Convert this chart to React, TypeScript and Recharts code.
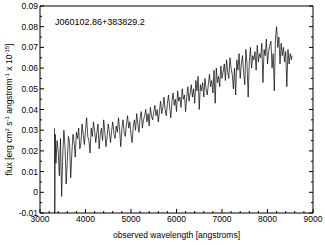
import React from 'react';
import { LineChart, Line, XAxis, YAxis } from 'recharts';

// wavelength samples [angstroms]
const wave = [
  3318, 3325, 3335,
  3350, 3375, 3400, 3425, 3450, 3475, 3500, 3525,
  3550, 3575, 3600, 3625, 3650, 3675, 3700, 3725,
  3750, 3775, 3800, 3825, 3850, 3875, 3900, 3925,
  3950, 3975, 4000, 4025, 4050, 4075, 4100, 4125,
  4150, 4175, 4200, 4225, 4250, 4275, 4300, 4325,
  4350, 4375, 4400, 4425, 4450, 4475, 4500, 4525,
  4550, 4575, 4600, 4625, 4650, 4675, 4700, 4725,
  4750, 4775, 4800, 4825, 4850, 4875, 4900, 4925,
  4950, 4975, 5000, 5025, 5050, 5075, 5100, 5125,
  5150, 5175, 5200, 5225, 5250, 5275, 5300, 5325,
  5350, 5375, 5400, 5425, 5450, 5475, 5500, 5525,
  5550, 5575, 5600, 5625, 5650, 5675, 5700, 5725,
  5750, 5775, 5800, 5825, 5850, 5875, 5900, 5925,
  5950, 5975, 6000, 6025, 6050, 6075, 6100, 6125,
  6150, 6175, 6200, 6225, 6250, 6275, 6300, 6325,
  6350, 6375, 6400, 6425, 6450, 6475, 6500, 6525,
  6550, 6575, 6600, 6625, 6650, 6675, 6700, 6725,
  6750, 6775, 6800, 6825, 6850, 6875, 6900, 6925,
  6950, 6975, 7000, 7025, 7050, 7075, 7100, 7125,
  7150, 7175, 7200, 7225, 7250, 7275, 7300, 7325,
  7350, 7375, 7400, 7425, 7450, 7475, 7500, 7525,
  7550, 7575, 7600, 7625, 7650, 7675, 7700, 7725,
  7750, 7775, 7800, 7825, 7850, 7875, 7900, 7925,
  7950, 7975, 8000, 8025, 8050, 8075, 8100, 8125,
  8150, 8175, 8200, 8225, 8250, 8275, 8300, 8325,
  8350, 8375, 8400, 8425, 8450, 8475, 8500, 8525,
  8540,
];

// flux [erg cm^2 s^-1 angstrom^-1 x 10^-15]
const flux = [
  0.031, -0.012, 0.028,
  0.014, 0.025, 0.020, 0.008, 0.026, -0.002, 0.018, 0.030,
  0.022, 0.004, 0.015, 0.027, 0.024, 0.007, 0.019, 0.028,
  0.024, 0.017, 0.029, 0.026, 0.031, 0.021, 0.024, 0.033,
  0.028, 0.023, 0.030, 0.036, 0.027, 0.025, 0.019, 0.031,
  0.027, 0.034, 0.030, 0.024, 0.029, 0.033, 0.021, 0.028,
  0.031, 0.025, 0.035, 0.029, 0.022, 0.027, 0.033, 0.029,
  0.024, 0.030, 0.034, 0.028, 0.026, 0.032, 0.029, 0.036,
  0.030, 0.022, 0.031, 0.035, 0.029, 0.027, 0.033, 0.037,
  0.031, 0.034, 0.028, 0.024, 0.032, 0.035, 0.030, 0.038,
  0.033, 0.029, 0.036, 0.039, 0.031, 0.035, 0.037, 0.040,
  0.034, 0.038, 0.032, 0.041, 0.037, 0.035, 0.039, 0.042,
  0.037, 0.040, 0.034, 0.039, 0.044, 0.038, 0.041, 0.046,
  0.040, 0.037, 0.043, 0.047, 0.041, 0.036, 0.044, 0.048,
  0.042, 0.045, 0.039, 0.049, 0.044, 0.046, 0.041, 0.050,
  0.045, 0.047, 0.039, 0.046, 0.051, 0.044, 0.048, 0.052,
  0.046, 0.050, 0.043, 0.054, 0.049, 0.056, 0.040, 0.052,
  0.049, 0.053, 0.046, 0.055, 0.050, 0.047, 0.052, 0.057,
  0.051, 0.054, 0.048, 0.059, 0.043, 0.060, 0.053, 0.056,
  0.051, 0.061, 0.055, 0.058, 0.062, 0.054, 0.064, 0.058,
  0.055, 0.065, 0.060, 0.057, 0.050, 0.060, 0.047, 0.064,
  0.059, 0.067, 0.055, 0.062, 0.066, 0.058, 0.052, 0.069,
  0.062, 0.046, 0.063, 0.070, 0.060, 0.066, 0.064, 0.068,
  0.059, 0.071, 0.063, 0.067, 0.065, 0.072, 0.053, 0.069,
  0.066, 0.074, 0.062, 0.068, 0.071, 0.073, 0.060, 0.067,
  0.049, 0.074, 0.080, 0.070, 0.075, 0.062, 0.072, 0.066,
  0.070, 0.063, 0.068, 0.051, 0.069, 0.062, 0.067, 0.064,
  0.066,
];

// axis ticks (major + minor)
const xTicks = [
  3000, 3200, 3400, 3600, 3800, 4000, 4200, 4400, 4600, 4800,
  5000, 5200, 5400, 5600, 5800, 6000, 6200, 6400, 6600, 6800,
  7000, 7200, 7400, 7600, 7800, 8000, 8200, 8400, 8600, 8800, 9000,
];
const yTicks = [
  -0.01, -0.005, 0, 0.005, 0.01, 0.015, 0.02, 0.025, 0.03, 0.035, 0.04,
  0.045, 0.05, 0.055, 0.06, 0.065, 0.07, 0.075, 0.08, 0.085, 0.09,
];

const title = 'J060102.86+383829.2';
const xTitle = 'observed wavelength [angstroms]';

const data = wave.map((w, i) => ({ w, f: flux[i] }));

const FONT = 8.5;
const isXMajor = (v: number) => v % 1000 === 0;
const isYMajor = (v: number) => Math.abs(v * 100 - Math.round(v * 100)) < 1e-6;
const yText = (v: number) => (Math.abs(v) < 1e-9 ? '0' : v.toFixed(2));

const BottomTick = ({ x, y, payload }: any) => {
  const major = isXMajor(payload.value);
  return (
    <g>
      <line x1={x} x2={x} y1={y} y2={y - (major ? 4 : 2)} stroke="#000" />
      {major && (
        <text x={x} y={y + 9} textAnchor="middle" fontSize={FONT} fill="#000">
          {payload.value}
        </text>
      )}
    </g>
  );
};

const TopTick = ({ x, y, payload }: any) => {
  const major = isXMajor(payload.value);
  return <line x1={x} x2={x} y1={y} y2={y + (major ? 4 : 2)} stroke="#000" />;
};

const LeftTick = ({ x, y, payload }: any) => {
  const major = isYMajor(payload.value);
  return (
    <g>
      <line x1={x} x2={x + (major ? 4 : 2)} y1={y} y2={y} stroke="#000" />
      {major && (
        <text x={x - 2} y={y + 3} textAnchor="end" fontSize={FONT} fill="#000">
          {yText(payload.value)}
        </text>
      )}
    </g>
  );
};

const RightTick = ({ x, y, payload }: any) => {
  const major = isYMajor(payload.value);
  return <line x1={x} x2={x - (major ? 4 : 2)} y1={y} y2={y} stroke="#000" />;
};

const YTitle = ({ viewBox }: any) => {
  const cx = 12;
  const cy = viewBox.y + viewBox.height / 2;
  return (
    <text
      x={cx}
      y={cy}
      transform={`rotate(-90 ${cx} ${cy})`}
      textAnchor="middle"
      fontSize={FONT}
      fill="#000"
    >
      flux [erg cm
      <tspan dy={-3} fontSize={6}>2</tspan>
      <tspan dy={3}> s</tspan>
      <tspan dy={-3} fontSize={6}>-1</tspan>
      <tspan dy={3}> angstrom</tspan>
      <tspan dy={-3} fontSize={6}>-1</tspan>
      <tspan dy={3}> x 10</tspan>
      <tspan dy={-3} fontSize={6}>-15</tspan>
      <tspan dy={3}>]</tspan>
    </text>
  );
};

const XTitle = ({ viewBox }: any) => (
  <text
    x={viewBox.x + viewBox.width / 2}
    y={viewBox.y + 25}
    textAnchor="middle"
    fontSize={FONT}
    fill="#000"
  >
    {xTitle}
  </text>
);

export default function App() {
  return (
    <div
      style={{
        position: 'absolute',
        left: 0,
        top: 0,
        width: 325,
        height: 245,
        background: '#fff',
        fontFamily: '"Liberation Sans", Arial, sans-serif',
      }}
    >
      <LineChart width={325} height={245} data={data} margin={{ top: 0, right: 0, bottom: 0, left: 0 }}>
        <XAxis
          dataKey="w"
          type="number"
          domain={[3000, 9000]}
          ticks={xTicks}
          interval={0}
          allowDataOverflow
          height={32}
          tickSize={0}
          tickMargin={0}
          tickLine={false}
          axisLine={{ stroke: '#000' }}
          tick={<BottomTick />}
          label={{ content: <XTitle /> }}
        />
        <XAxis
          xAxisId="top"
          orientation="top"
          type="number"
          domain={[3000, 9000]}
          ticks={xTicks}
          interval={0}
          allowDataOverflow
          height={6}
          tickSize={0}
          tickMargin={0}
          tickLine={false}
          axisLine={{ stroke: '#000' }}
          tick={<TopTick />}
        />
        <YAxis
          type="number"
          domain={[-0.01, 0.09]}
          ticks={yTicks}
          interval={0}
          allowDataOverflow
          width={40}
          tickSize={0}
          tickMargin={0}
          tickLine={false}
          axisLine={{ stroke: '#000' }}
          tick={<LeftTick />}
          label={{ content: <YTitle /> }}
        />
        <YAxis
          yAxisId="right"
          orientation="right"
          type="number"
          domain={[-0.01, 0.09]}
          ticks={yTicks}
          interval={0}
          allowDataOverflow
          width={12}
          tickSize={0}
          tickMargin={0}
          tickLine={false}
          axisLine={{ stroke: '#000' }}
          tick={<RightTick />}
        />
        <Line
          dataKey="f"
          type="linear"
          stroke="#000"
          strokeWidth={0.7}
          dot={false}
          isAnimationActive={false}
        />
      </LineChart>
      <div
        style={{
          position: 'absolute',
          left: 55,
          top: 17,
          fontSize: 9,
          lineHeight: '10px',
          color: '#000',
          whiteSpace: 'nowrap',
        }}
      >
        {title}
      </div>
    </div>
  );
}
